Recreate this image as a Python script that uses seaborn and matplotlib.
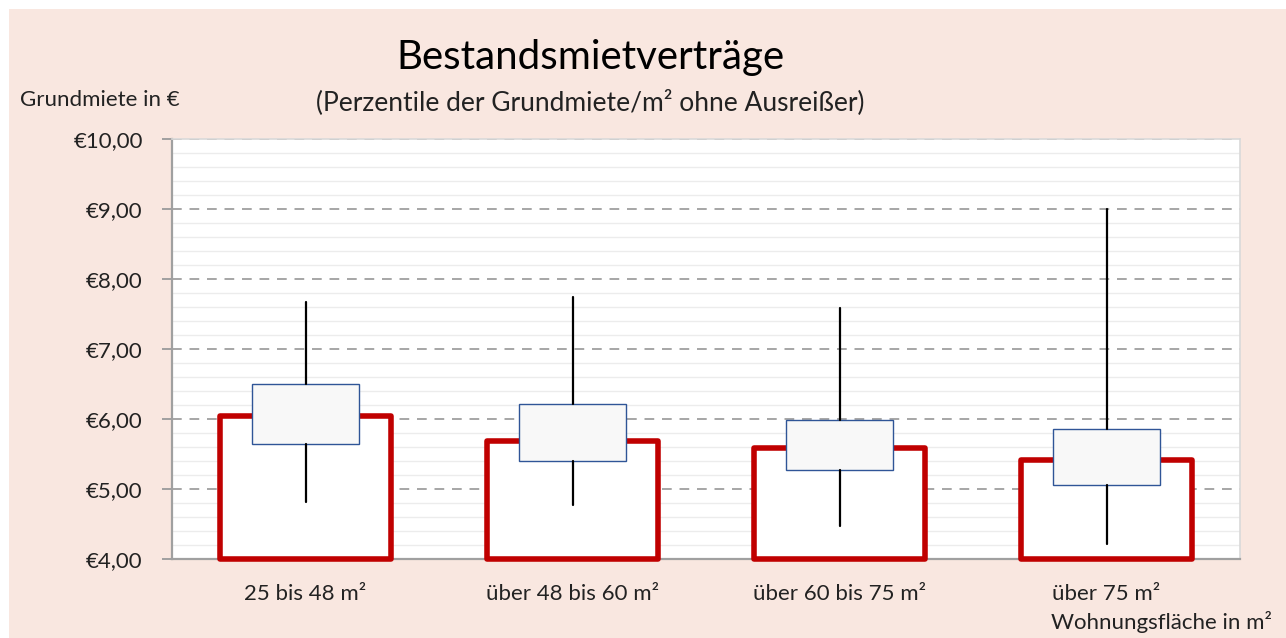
import numpy as np
import matplotlib.pyplot as plt
import matplotlib.ticker as mticker
from matplotlib.patches import Rectangle
import seaborn as sns

sns.set_style("white")
plt.rcParams['font.family'] = ['Lato', 'DejaVu Sans']

# data
categories = ["25 bis 48 m²", "über 48 bis 60 m²", "über 60 bis 75 m²", "über 75 m²"]
medians = [6.04, 5.69, 5.58, 5.41]
q1 = [5.64, 5.40, 5.27, 5.06]
q3 = [6.50, 6.21, 5.99, 5.86]
whisker_low = [4.81, 4.77, 4.47, 4.21]
whisker_high = [7.67, 7.75, 7.59, 9.00]
y_min, y_max = 4.0, 10.0

RED = "#c00000"
PINK = "#f9e7e0"
BLUE = "#2f5597"

fig = plt.figure(figsize=(12.86, 6.38), dpi=100, facecolor="white")
fig.patches.append(Rectangle((9 / 1286, 0), 1, 629 / 638, transform=fig.transFigure,
                             facecolor=PINK, edgecolor="none", zorder=-10))
ax = fig.add_axes([172 / 1286, 1 - 559 / 638, 1068 / 1286, 420 / 638])
ax.set_facecolor("white")

# red median bars, starting at the axis floor
heights = [m - y_min for m in medians]
sns.barplot(x=categories, y=heights, bottom=y_min, width=0.64, color="white",
            saturation=1, edgecolor=RED, linewidth=4.0, errorbar=None,
            clip_on=False, zorder=3, ax=ax)
for p in ax.patches:
    p.set_joinstyle("round")

# quartile boxes + whiskers
stats = []
for i in range(len(categories)):
    stats.append(dict(med=medians[i], q1=q1[i], q3=q3[i],
                      whislo=whisker_low[i], whishi=whisker_high[i], fliers=[]))
ax.bxp(stats, positions=np.arange(len(categories)), widths=0.40,
       patch_artist=True, showcaps=False, showfliers=False,
       boxprops=dict(facecolor="#f8f8f8", edgecolor=BLUE, linewidth=1.0),
       whiskerprops=dict(color="black", linewidth=1.6),
       medianprops=dict(linewidth=0), zorder=4, manage_ticks=False)

ax.set_xlim(-0.5, len(categories) - 0.5)
ax.set_ylim(y_min, y_max)
ax.set_xticks(np.arange(len(categories)))
ax.set_xticklabels(categories)
ax.yaxis.set_major_locator(mticker.MultipleLocator(1))
ax.yaxis.set_minor_locator(mticker.MultipleLocator(0.2))
ax.yaxis.set_major_formatter(mticker.FuncFormatter(lambda v, _: "€" + f"{v:.2f}".replace(".", ",")))

ax.grid(axis="y", which="minor", color="#ececec", linewidth=1.0, linestyle="-", zorder=0)
ax.grid(axis="y", which="major", color="#a6a6a6", linewidth=1.4, linestyle=(0, (5, 4)), zorder=1)
ax.set_axisbelow(True)

ax.tick_params(axis="y", which="major", length=7, width=1.4, color="#a0a0a0",
               labelsize=16, pad=14, left=True)
ax.tick_params(axis="y", which="minor", length=0)
ax.tick_params(axis="x", length=0, labelsize=16, pad=18)
for lab in ax.get_xticklabels() + ax.get_yticklabels():
    lab.set_color("#222222")

for side in ["left", "bottom"]:
    ax.spines[side].set_color("#a0a0a0")
    ax.spines[side].set_linewidth(1.6)
    ax.spines[side].set_zorder(2.5)
for side in ["top", "right"]:
    ax.spines[side].set_color("#d9d9d9")
    ax.spines[side].set_linewidth(1.2)
ax.set_xlabel("")
ax.set_ylabel("")

fig.text(590 / 1286, 1 - 58 / 638, "Bestandsmietverträge", ha="center", va="center",
         fontsize=29, color="black")
fig.text(590 / 1286, 1 - 102 / 638, "(Perzentile der Grundmiete/m² ohne Ausreißer)",
         ha="center", va="center", fontsize=19, color="#222222")
fig.text(20 / 1286, 1 - 100 / 638, "Grundmiete in €", ha="left", va="center",
         fontsize=16, color="#222222")
fig.text(1272 / 1286, 1 - 622 / 638, "Wohnungsfläche in m²", ha="right", va="center",
         fontsize=16, color="#222222")

fig.savefig("out.png", dpi=100, facecolor=fig.get_facecolor())
